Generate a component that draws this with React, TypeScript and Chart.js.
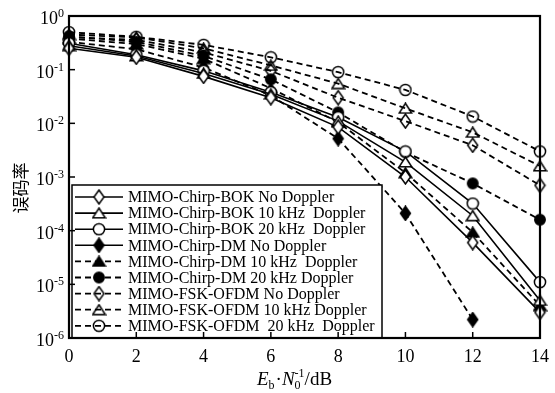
import React, { useEffect, useRef } from "react";
import { Chart, registerables } from "chart.js";

Chart.register(...registerables);

// ---- data ----
const ebn0 = [0, 2, 4, 6, 8, 10, 12, 14];
const xTickValues = [0, 2, 4, 6, 8, 10, 12, 14];
const xTickLabels = ["0", "2", "4", "6", "8", "10", "12", "14"];
const yExponents = [0, -1, -2, -3, -4, -5, -6];

const bokNo = [0.25, 0.17, 0.075, 0.03, 0.0085, 0.001, 6e-5, 3e-6];
const bok10 = [0.28, 0.18, 0.085, 0.035, 0.011, 0.0019, 1.9e-4, 5e-6];
const bok20 = [0.31, 0.19, 0.095, 0.038, 0.013, 0.003, 3.2e-4, 1.1e-5];
const dmNo = [0.33, 0.24, 0.11, 0.033, 0.0052, 2.1e-4, 2.2e-6, null];
const dm10 = [0.38, 0.3, 0.16, 0.045, 0.0105, 0.0012, 9.3e-5, 4e-6];
const dm20 = [0.42, 0.33, 0.18, 0.066, 0.016, 0.0029, 7.6e-4, 1.6e-4];
const fskNo = [0.4, 0.36, 0.21, 0.095, 0.03, 0.011, 0.0039, 7e-4];
const fsk10 = [0.45, 0.4, 0.25, 0.12, 0.055, 0.019, 0.0068, 0.0016];
const fsk20 = [0.5, 0.41, 0.29, 0.17, 0.09, 0.042, 0.0134, 0.003];

const seriesLabels = [
  "MIMO-Chirp-BOK No Doppler",
  "MIMO-Chirp-BOK 10 kHz  Doppler",
  "MIMO-Chirp-BOK 20 kHz  Doppler",
  "MIMO-Chirp-DM No Doppler",
  "MIMO-Chirp-DM 10 kHz  Doppler",
  "MIMO-Chirp-DM 20 kHz Doppler",
  "MIMO-FSK-OFDM No Doppler",
  "MIMO-FSK-OFDM 10 kHz Doppler",
  "MIMO-FSK-OFDM  20 kHz  Doppler",
];
const seriesValues = [bokNo, bok10, bok20, dmNo, dm10, dm20, fskNo, fsk10, fsk20];

// ---- styles ----
const seriesShape = ["diamond", "triangle", "circle", "diamond", "triangle", "circle", "diamond", "triangle", "circle"];
const seriesFill = ["white", "white", "white", "black", "black", "black", "none", "none", "none"];
const seriesDashed = [false, false, false, true, true, true, true, true, true];
const legendDashed = [false, false, false, false, true, true, true, true, true];

const SERIF = "'Liberation Serif', 'Times New Roman', serif";

function makeMarker(shape: string, fill: string): HTMLCanvasElement {
  const c = document.createElement("canvas");
  let w = 14, h = 14;
  if (shape === "diamond") { w = 13; h = 16; }
  if (shape === "triangle") { w = 15; h = 12; }
  c.width = w; c.height = h;
  const g = c.getContext("2d")!;
  g.lineWidth = 1.5;
  g.strokeStyle = "#000";
  g.beginPath();
  const cx = w / 2, cy = h / 2;
  if (shape === "diamond") {
    g.moveTo(cx, 1); g.lineTo(w - 1.5, cy); g.lineTo(cx, h - 1); g.lineTo(1.5, cy); g.closePath();
  } else if (shape === "triangle") {
    g.moveTo(cx, 1); g.lineTo(w - 1.2, h - 1.2); g.lineTo(1.2, h - 1.2); g.closePath();
  } else {
    g.arc(cx, cy, fill === "black" ? 5.2 : 5.6, 0, Math.PI * 2);
  }
  if (fill !== "none") {
    g.fillStyle = fill === "black" ? "#000" : "#fff";
    g.fill();
  }
  g.stroke();
  return c;
}

function drawOverlay(chart: any, markers: HTMLCanvasElement[]) {
  const ctx: CanvasRenderingContext2D = chart.ctx;
  const a = chart.chartArea;
  const xs = chart.scales.x;
  const ys = chart.scales.y;
  ctx.save();

  // legend box
  const lx = a.left + 3, ly = 185, lr = 382, lb = a.bottom;
  ctx.fillStyle = "#fff";
  ctx.fillRect(lx, ly, lr - lx, lb - ly);
  ctx.strokeStyle = "#000";
  ctx.lineWidth = 1.5;
  ctx.strokeRect(lx, ly, lr - lx, lb - ly);
  ctx.font = `16px ${SERIF}`;
  ctx.textBaseline = "middle";
  ctx.textAlign = "left";
  ctx.fillStyle = "#000";
  seriesLabels.forEach((lab, i) => {
    const cy = 197 + i * 16.1;
    ctx.lineWidth = legendDashed[i] ? 1.8 : 1.6;
    ctx.setLineDash(legendDashed[i] ? [6, 4] : []);
    ctx.beginPath();
    ctx.moveTo(75, cy);
    ctx.lineTo(123, cy);
    ctx.stroke();
    ctx.setLineDash([]);
    const m = markers[i];
    ctx.drawImage(m, 99 - m.width / 2, cy - m.height / 2);
    ctx.fillText(lab, 128, cy + 1);
  });

  // frame
  ctx.setLineDash([]);
  ctx.lineWidth = 2.2;
  ctx.strokeRect(a.left, a.top, a.right - a.left, a.bottom - a.top);

  // ticks
  ctx.lineWidth = 1.5;
  xTickValues.forEach((v) => {
    const px = xs.getPixelForValue(v);
    ctx.beginPath(); ctx.moveTo(px, a.bottom); ctx.lineTo(px, a.bottom - 6); ctx.stroke();
  });
  yExponents.forEach((e) => {
    const py = ys.getPixelForValue(Math.pow(10, e));
    ctx.beginPath(); ctx.moveTo(a.left, py); ctx.lineTo(a.left + 6, py); ctx.stroke();
  });

  // x tick labels
  ctx.font = `18px ${SERIF}`;
  ctx.textAlign = "center";
  ctx.textBaseline = "alphabetic";
  xTickValues.forEach((v, i) => {
    ctx.fillText(xTickLabels[i], xs.getPixelForValue(v), 362);
  });

  // y tick labels 10^n
  yExponents.forEach((e) => {
    const py = ys.getPixelForValue(Math.pow(10, e));
    const sup = e === 0 ? "0" : "-" + String(-e);
    ctx.font = `12px ${SERIF}`;
    const sw = ctx.measureText(sup).width;
    ctx.font = `18px ${SERIF}`;
    const bw = ctx.measureText("10").width;
    const right = 64;
    ctx.textAlign = "left";
    ctx.fillText("10", right - sw - bw, py + 8);
    ctx.font = `12px ${SERIF}`;
    ctx.fillText(sup, right - sw, py + 1);
  });

  // y title
  ctx.save();
  ctx.translate(21, 188);
  ctx.rotate(-Math.PI / 2);
  ctx.font = `17px 'Noto Sans CJK SC', sans-serif`;
  ctx.textAlign = "center";
  ctx.textBaseline = "middle";
  ctx.fillText("误码率", 0, 0);
  ctx.restore();

  // x title: E_b·N_0^{-1}/dB
  let x = 257;
  const base = 385;
  ctx.textAlign = "left";
  ctx.textBaseline = "alphabetic";
  ctx.font = `italic 19px ${SERIF}`;
  ctx.fillText("E", x, base); x += ctx.measureText("E").width;
  ctx.font = `12px ${SERIF}`;
  ctx.fillText("b", x, base + 4); x += ctx.measureText("b").width + 1;
  ctx.font = `19px ${SERIF}`;
  ctx.fillText("·", x, base); x += ctx.measureText("·").width;
  ctx.font = `italic 19px ${SERIF}`;
  ctx.fillText("N", x, base); x += ctx.measureText("N").width;
  ctx.font = `12px ${SERIF}`;
  const wSup = ctx.measureText("-1").width;
  ctx.fillText("-1", x, base - 8);
  ctx.fillText("0", x, base + 4);
  x += wSup;
  ctx.font = `19px ${SERIF}`;
  ctx.fillText("/dB", x, base);

  ctx.restore();
}

export default function App() {
  const canvasRef = useRef<HTMLCanvasElement | null>(null);

  useEffect(() => {
    const canvas = canvasRef.current;
    if (!canvas) return;
    const markers = seriesShape.map((s, i) => makeMarker(s, seriesFill[i]));

    const datasets = seriesLabels.map((label, i) => ({
      label,
      data: ebn0.map((x, j) => ({ x, y: seriesValues[i][j] })),
      borderColor: "#000",
      backgroundColor: "#000",
      borderWidth: seriesDashed[i] ? 1.8 : 1.6,
      borderDash: seriesDashed[i] ? [6, 4] : [],
      pointStyle: markers[i],
      pointRadius: 6,
      pointHoverRadius: 6,
      tension: 0,
      clip: false as any,
      fill: false,
    }));

    const chart = new Chart(canvas, {
      type: "line",
      data: { datasets },
      options: {
        responsive: false,
        animation: false,
        events: [],
        layout: { padding: { left: 69, top: 16, right: 15, bottom: 55 } },
        scales: {
          x: { type: "linear", min: 0, max: 14, display: false },
          y: { type: "logarithmic", min: 1e-6, max: 1, display: false },
        },
        plugins: { legend: { display: false }, tooltip: { enabled: false } },
      },
      plugins: [
        {
          id: "overlay",
          afterDraw(c: any) {
            drawOverlay(c, markers);
          },
        },
      ],
    } as any);

    return () => chart.destroy();
  }, []);

  return (
    <div style={{ position: "absolute", left: 0, top: 0, width: 555, height: 393, background: "#fff" }}>
      <canvas ref={canvasRef} width={555} height={393} style={{ display: "block" }} />
    </div>
  );
}
